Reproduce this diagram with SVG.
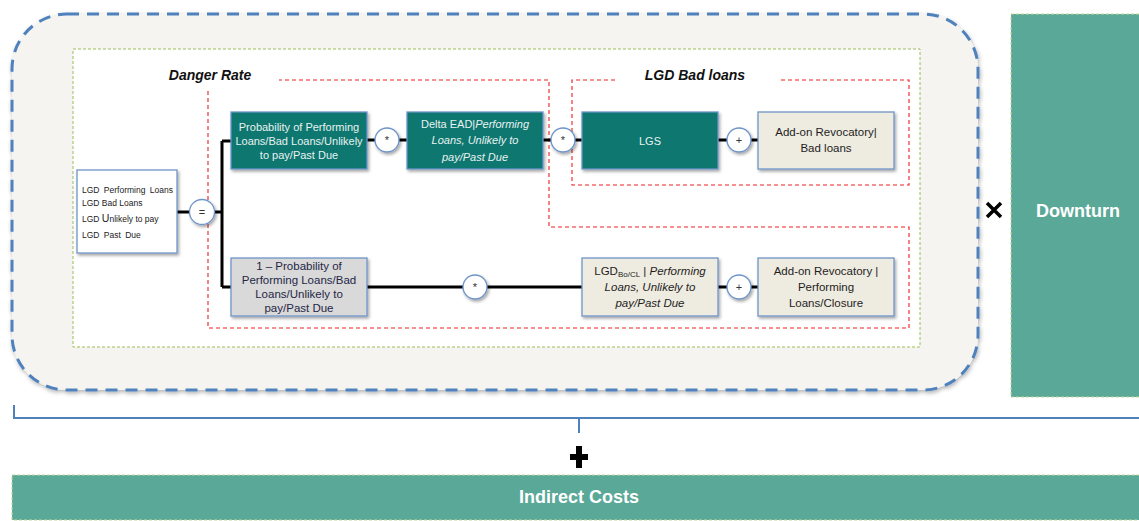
<svg xmlns="http://www.w3.org/2000/svg" width="1139" height="521" viewBox="0 0 1139 521">
<defs>
<filter id="sh" x="-20%" y="-20%" width="140%" height="140%">
<feDropShadow dx="1.5" dy="2" stdDeviation="1.5" flood-color="#000" flood-opacity="0.35"/>
</filter>
<filter id="sh2" x="-5%" y="-5%" width="110%" height="110%">
<feDropShadow dx="1" dy="2" stdDeviation="2" flood-color="#000" flood-opacity="0.3"/>
</filter>
</defs>
<style>
text{font-family:"Liberation Sans",Arial,sans-serif;}
.box{stroke:#6f95c8;stroke-width:1.3;filter:url(#sh);}
.teal{fill:#08776f;}
.beige{fill:#eeebe0;}
.grey{fill:#d9d9d9;}
.white{fill:#ffffff;}
.tw{fill:#e9f2f0;font-size:11px;text-anchor:middle;}
.td{fill:#1e1e1e;font-size:11.5px;text-anchor:middle;}
.tn{fill:#1f2747;font-size:11.5px;text-anchor:middle;}
.it{font-style:italic;}
.circ{fill:#fff;stroke:#6f95c8;stroke-width:1.3;filter:url(#sh);}
.op{fill:#333;font-size:11px;text-anchor:middle;}
.conn{stroke:#000;stroke-width:3;fill:none;}
.red{stroke:#ee2020;stroke-width:1.1;stroke-dasharray:4 3;fill:none;}
.title{font-size:14px;font-weight:bold;font-style:italic;fill:#111;text-anchor:middle;}
.big{fill:#5aa898;stroke:#c4d79b;stroke-width:1;stroke-dasharray:3 2;}
.bigt{fill:#fff;font-size:18px;font-weight:bold;text-anchor:middle;}
.lgd{fill:#222;font-size:8.5px;}
</style>

<g id="outer-frame">
<rect x="12" y="14" width="966" height="376" rx="55" ry="55" fill="#f5f4f1" stroke="#4f81bd" stroke-width="3" stroke-dasharray="12 8" filter="url(#sh2)"/>
<rect x="73" y="49" width="847" height="298" fill="#ffffff" stroke="#9bbb59" stroke-width="1" stroke-dasharray="3 2"/>
</g>

<g id="regions">
<path class="red" d="M208,91 V328 H909 V227 H549 V80 H279"/>
<path class="red" d="M615,80 H572 V185 H909 V80 H778"/>
<text class="title" x="210" y="80">Danger Rate</text>
<text class="title" x="695" y="80">LGD Bad loans</text>
</g>

<g id="connectors">
<path class="conn" d="M177,212 H222 M222,141 V287 M222,141 H231 M222,287 H231"/>
<path class="conn" d="M367,140 H407 M543,140 H582 M718,140 H758"/>
<path class="conn" d="M367,287 H582 M718,287 H758"/>
</g>

<g id="lgd-box">
<rect class="box white" x="77" y="170" width="100" height="83"/>
<text class="lgd" x="82" y="193" word-spacing="2">LGD Performing Loans</text>
<text class="lgd" x="82" y="206">LGD Bad Loans</text>
<text class="lgd" x="82" y="222">LGD <tspan font-size="10.5">U</tspan>nlikely to pay</text>
<text class="lgd" x="82" y="238" word-spacing="2">LGD Past Due</text>
</g>

<g id="op-eq">
<circle class="circ" cx="202" cy="212" r="12.5"/>
<text class="op" x="202" y="216">=</text>
</g>

<g id="prob-box">
<rect class="box teal" x="231" y="112" width="136" height="57"/>
<text class="tw" x="299" y="131">Probability of Performing</text>
<text class="tw" x="299" y="145">Loans/Bad Loans/Unlikely</text>
<text class="tw" x="299" y="159">to pay/Past Due</text>
</g>

<g id="op-mul1">
<circle class="circ" cx="387" cy="140" r="12"/>
<text class="op" x="387" y="144">*</text>
</g>

<g id="delta-ead-box">
<rect class="box teal" x="407" y="112" width="136" height="57"/>
<text class="tw" x="475" y="128">Delta EAD|<tspan class="it">Performing</tspan></text>
<text class="tw it" x="475" y="144">Loans, Unlikely to</text>
<text class="tw it" x="475" y="161">pay/Past Due</text>
</g>

<g id="op-mul2">
<circle class="circ" cx="563" cy="140" r="12"/>
<text class="op" x="563" y="144">*</text>
</g>

<g id="lgs-box">
<rect class="box teal" x="582" y="112" width="136" height="57"/>
<text class="tw" x="650" y="145">LGS</text>
</g>

<g id="op-plus1">
<circle class="circ" cx="739" cy="140" r="12"/>
<text class="op" x="739" y="144">+</text>
</g>

<g id="addon-bad-box">
<rect class="box beige" x="758" y="112" width="136" height="57"/>
<text class="td" x="826" y="136">Add-on Revocatory|</text>
<text class="td" x="826" y="152">Bad loans</text>
</g>

<g id="one-minus-box">
<rect class="box grey" x="231" y="258" width="136" height="58"/>
<text class="tn" x="299" y="270">1 – Probability of</text>
<text class="tn" x="299" y="284">Performing Loans/Bad</text>
<text class="tn" x="299" y="298">Loans/Unlikely to</text>
<text class="tn" x="299" y="312">pay/Past Due</text>
</g>

<g id="op-mul3">
<circle class="circ" cx="475" cy="287" r="12"/>
<text class="op" x="475" y="291">*</text>
</g>

<g id="lgd-bocl-box">
<rect class="box beige" x="582" y="258" width="136" height="58"/>
<text class="td" x="650" y="275">LGD<tspan font-size="8" dy="2">Bo/CL</tspan><tspan dy="-2"> | </tspan><tspan class="it">Performing</tspan></text>
<text class="td it" x="650" y="291">Loans, Unlikely to</text>
<text class="td it" x="650" y="307">pay/Past Due</text>
</g>

<g id="op-plus2">
<circle class="circ" cx="739" cy="287" r="12"/>
<text class="op" x="739" y="291">+</text>
</g>

<g id="addon-perf-box">
<rect class="box beige" x="758" y="258" width="136" height="58"/>
<text class="td" x="826" y="275">Add-on Revocatory |</text>
<text class="td" x="826" y="291">Performing</text>
<text class="td" x="826" y="307">Loans/Closure</text>
</g>

<g id="times-sign">
<path d="M987,203 L1001,217 M1001,203 L987,217" stroke="#000" stroke-width="3.5"/>
</g>

<g id="downturn">
<rect class="big" x="1011" y="14" width="135" height="383"/>
<text class="bigt" x="1078" y="217">Downturn</text>
</g>

<g id="brace">
<path d="M14,405 V418 H1139 M579,418 V433" stroke="#4f81bd" stroke-width="2" fill="none"/>
</g>

<g id="plus-sign">
<path d="M579,446 V468 M570,457 H588" stroke="#000" stroke-width="6"/>
</g>

<g id="indirect-costs">
<rect class="big" x="12" y="475" width="1135" height="45"/>
<text class="bigt" x="579" y="503">Indirect Costs</text>
</g>
</svg>
